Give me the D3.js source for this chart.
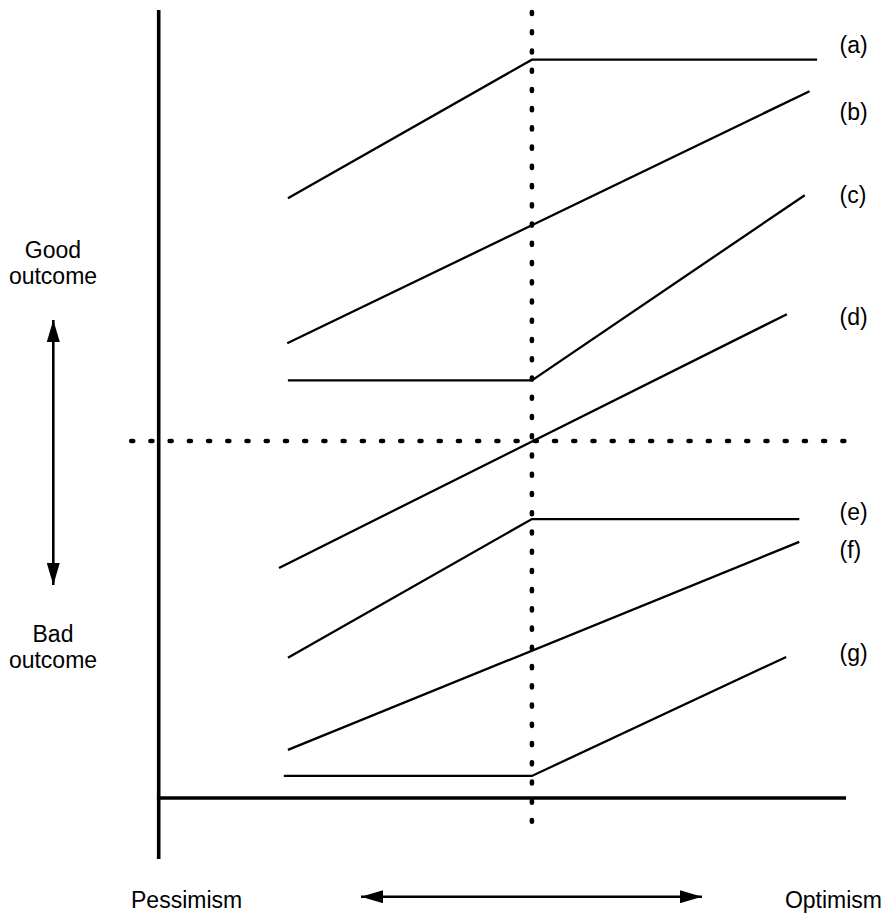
<!DOCTYPE html>
<html>
<head>
<meta charset="utf-8">
<script src="https://cdn.jsdelivr.net/npm/d3@7/dist/d3.min.js"></script>
<style>
  html, body { margin: 0; padding: 0; background: #fff; }
  svg { display: block; }
  text { font-family: "Liberation Sans", Arial, Helvetica, sans-serif; fill: #000; }
</style>
</head>
<body>
<script>
// ---- data (x: pessimism→optimism 0..100, y: bad→good outcome 0..100) ----
const seriesNames = ["(a)", "(b)", "(c)", "(d)", "(e)", "(f)", "(g)"];
const seriesA = [[18.8, 76.1], [54.3, 93.7], [95.8, 93.7]];
const seriesB = [[18.7, 57.7], [94.7, 89.7]];
const seriesC = [[18.8, 53.0], [54.3, 53.0], [94.0, 76.5]];
const seriesD = [[17.5, 29.2], [91.4, 61.4]];
const seriesE = [[18.8, 17.8], [54.3, 35.4], [93.2, 35.4]];
const seriesF = [[18.8, 6.1], [93.2, 32.5]];
const seriesG = [[18.2, 2.8], [54.3, 2.8], [91.3, 17.9]];
const labelY = [94.5, 86.0, 75.5, 60.0, 35.3, 30.5, 17.4];   // label baselines (y units)
const neutralX = 54.3;   // dotted vertical
const neutralY = 45.3;   // dotted horizontal
const yLabelsTop = ["Good", "outcome"];
const yLabelsBottom = ["Bad", "outcome"];
const xLabels = ["Pessimism", "Optimism"];

const allSeries = [seriesA, seriesB, seriesC, seriesD, seriesE, seriesF, seriesG];

const W = 889, H = 913;
const x = d3.scaleLinear().domain([0, 100]).range([158.7, 846]);
const y = d3.scaleLinear().domain([0, 100]).range([798, 10]);

const svg = d3.select("body").append("svg").attr("width", W).attr("height", H);

const defs = svg.append("defs");
defs.append("marker").attr("id", "arrowEnd")
  .attr("viewBox", "0 0 22 13").attr("refX", 22).attr("refY", 6.5)
  .attr("markerWidth", 22).attr("markerHeight", 13)
  .attr("markerUnits", "userSpaceOnUse").attr("orient", "auto")
  .append("path").attr("d", "M0,0 L22,6.5 L0,13 Z").attr("fill", "#000");
defs.append("marker").attr("id", "arrowStart")
  .attr("viewBox", "0 0 22 13").attr("refX", 0).attr("refY", 6.5)
  .attr("markerWidth", 22).attr("markerHeight", 13)
  .attr("markerUnits", "userSpaceOnUse").attr("orient", "auto")
  .append("path").attr("d", "M22,0 L0,6.5 L22,13 Z").attr("fill", "#000");

// axes
svg.append("line")
  .attr("x1", x(0)).attr("x2", x(0)).attr("y1", y(100)).attr("y2", y(-7.75))
  .attr("stroke", "#000").attr("stroke-width", 3.6);
svg.append("line")
  .attr("x1", x(0) - 1.8).attr("x2", x(100)).attr("y1", y(0)).attr("y2", y(0))
  .attr("stroke", "#000").attr("stroke-width", 3.6);

// dotted reference lines
svg.append("line")
  .attr("x1", x(neutralX)).attr("x2", x(neutralX)).attr("y1", y(99.75)).attr("y2", y(-3.0))
  .attr("stroke", "#000").attr("stroke-width", 4.6)
  .attr("stroke-linecap", "round").attr("stroke-dasharray", "2 17.24");
svg.append("line")
  .attr("x1", x(-4.0)).attr("x2", x(100)).attr("y1", y(neutralY)).attr("y2", y(neutralY))
  .attr("stroke", "#000").attr("stroke-width", 4.6)
  .attr("stroke-linecap", "round").attr("stroke-dasharray", "2 17.22");

// series lines
const line = d3.line().x(d => x(d[0])).y(d => y(d[1]));
svg.append("g").selectAll("path").data(allSeries).join("path")
  .attr("d", line).attr("fill", "none").attr("stroke", "#000")
  .attr("stroke-width", 2.3).attr("stroke-linejoin", "miter");

// series labels
svg.append("g").selectAll("text").data(seriesNames).join("text")
  .attr("x", 839.5).attr("y", (d, i) => y(labelY[i]))
  .attr("font-size", 23).text(d => d);

// y-side labels
const lg = svg.append("g").attr("font-size", 23).attr("text-anchor", "middle");
lg.selectAll("text.top").data(yLabelsTop).join("text").attr("class", "top")
  .attr("x", 53).attr("y", (d, i) => 258 + i * 25.5).text(d => d);
lg.selectAll("text.bot").data(yLabelsBottom).join("text").attr("class", "bot")
  .attr("x", 53).attr("y", (d, i) => 642 + i * 26).text(d => d);

// vertical double arrow
svg.append("line").attr("x1", 53.3).attr("x2", 53.3).attr("y1", 320).attr("y2", 585)
  .attr("stroke", "#000").attr("stroke-width", 2.6)
  .attr("marker-start", "url(#arrowStart)").attr("marker-end", "url(#arrowEnd)");

// horizontal double arrow
svg.append("line").attr("x1", 361).attr("x2", 702).attr("y1", 896.7).attr("y2", 896.7)
  .attr("stroke", "#000").attr("stroke-width", 2.6)
  .attr("marker-start", "url(#arrowStart)").attr("marker-end", "url(#arrowEnd)");

// x-side labels
svg.append("text").attr("x", 131).attr("y", 907.5).attr("font-size", 23).text(xLabels[0]);
svg.append("text").attr("x", 882).attr("y", 907.5).attr("font-size", 23)
  .attr("text-anchor", "end").text(xLabels[1]);
</script>
</body>
</html>
